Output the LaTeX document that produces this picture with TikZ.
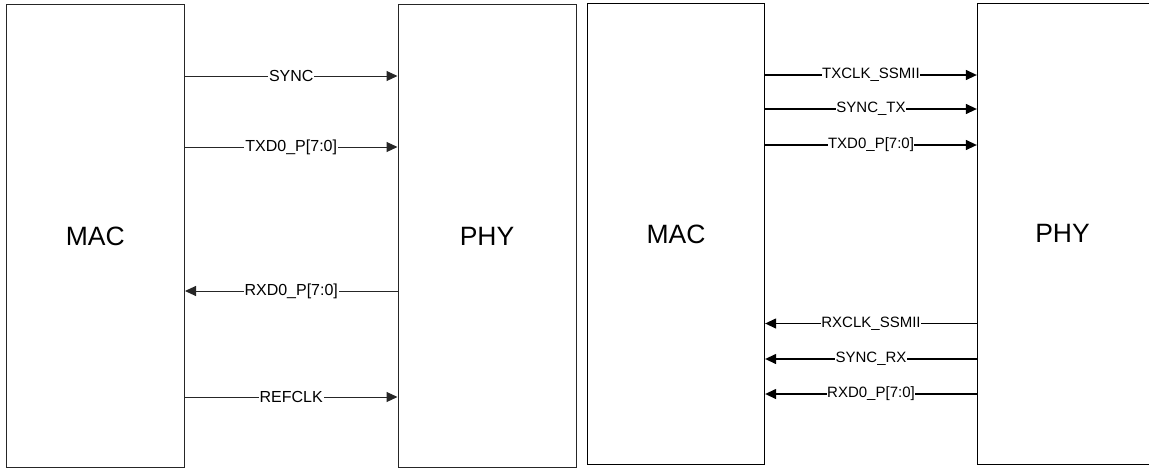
\documentclass[tikz,border=0pt]{standalone}
\usepackage{fontspec}
\setmainfont{Liberation Sans}
\usepackage{tikz}
\usetikzlibrary{arrows.meta}

\begin{document}
\begin{tikzpicture}[
    x=1pt, y=-1pt,
    box/.style={rectangle, draw, inner sep=0pt, font=\fontsize{26.5}{30}\selectfont},
    oldbox/.style={box, draw=black!85, line width=1pt},
    newbox/.style={box, draw=black, line width=1.3pt},
    lbl/.style={fill=white, inner sep=1pt, font=\fontsize{16}{19}\selectfont},
    lblb/.style={fill=white, inner sep=0.5pt, font=\fontsize{15}{18}\selectfont},
    sig/.style={-{Triangle[length=11pt, width=10pt]}, draw=black!85, line width=1pt},
    sigb/.style={-{Triangle[length=11pt, width=10pt]}, draw=black, line width=1.3pt}
]
    \useasboundingbox (0,0) rectangle (1149,469);

    % Boxes, first interface
    \node[oldbox, minimum width=178.5pt, minimum height=463pt] (macL) at (95.25,236) {MAC};
    \node[oldbox, minimum width=178pt, minimum height=463pt] (phyL) at (487,236) {PHY};

    % Boxes, second interface
    \node[newbox, minimum width=177pt, minimum height=461pt] (macR) at (676,234) {MAC};
    \node[newbox, minimum width=200pt, minimum height=461pt] (phyR) at (1077.5,234) {};
    \node[font=\fontsize{26.5}{30}\selectfont] (phyRtxt) at (1062.5,233) {PHY};

    % Signals, first interface
    \draw[sig] (macL.east |- 0,76) -- node[lbl]{SYNC} (phyL.west |- 0,76);
    \draw[sig] (macL.east |- 0,147) -- node[lbl]{TXD0\_P[7:0]} (phyL.west |- 0,147);
    \draw[sig] (phyL.west |- 0,291) -- node[lbl]{RXD0\_P[7:0]} (macL.east |- 0,291);
    \draw[sig] (macL.east |- 0,397) -- node[lbl]{REFCLK} (phyL.west |- 0,397);

    % Signals, second interface
    \draw[sigb] (macR.east |- 0,75) -- node[lblb]{TXCLK\_SSMII} (phyR.west |- 0,75);
    \draw[sigb] (macR.east |- 0,109) -- node[lblb]{SYNC\_TX} (phyR.west |- 0,109);
    \draw[sigb] (macR.east |- 0,145) -- node[lblb]{TXD0\_P[7:0]} (phyR.west |- 0,145);
    \draw[sigb] (phyR.west |- 0,323.5) -- node[lblb]{RXCLK\_SSMII} (macR.east |- 0,323.5);
    \draw[sigb] (phyR.west |- 0,359) -- node[lblb]{SYNC\_RX} (macR.east |- 0,359);
    \draw[sigb] (phyR.west |- 0,394) -- node[lblb]{RXD0\_P[7:0]} (macR.east |- 0,394);
\end{tikzpicture}
\end{document}
